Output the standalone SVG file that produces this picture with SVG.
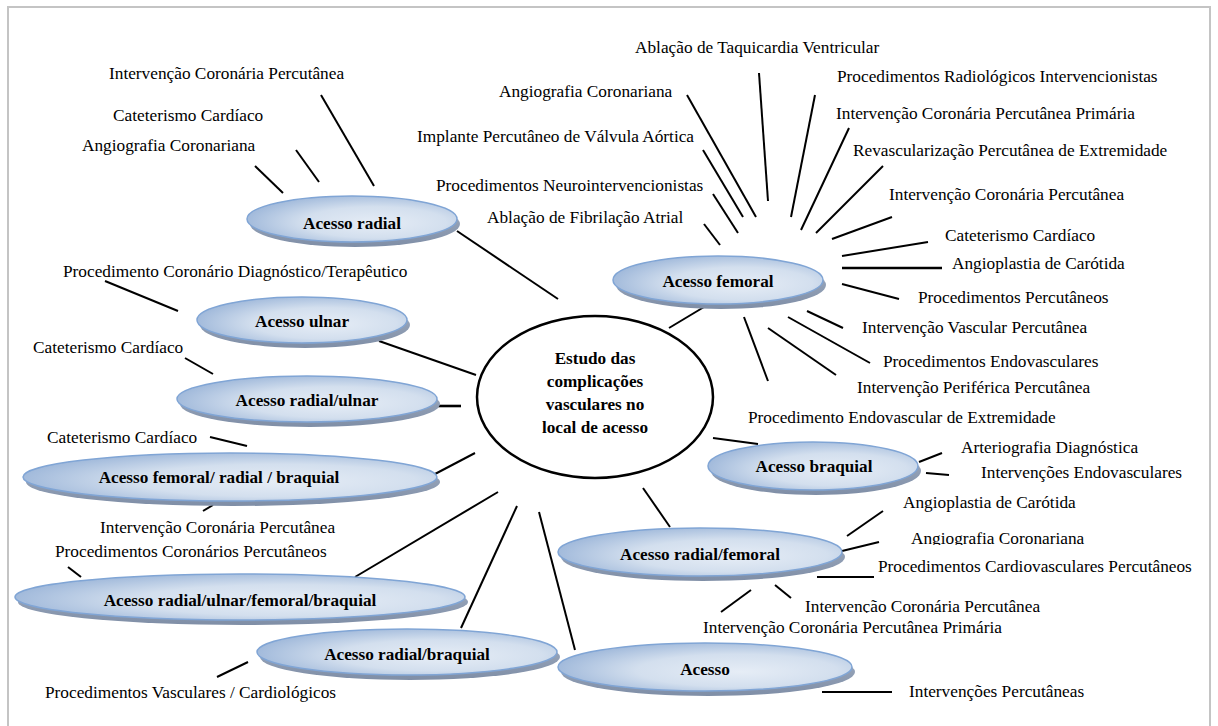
<svg xmlns="http://www.w3.org/2000/svg" width="1218" height="726" viewBox="0 0 1218 726">
<defs>
<radialGradient id="gFill" cx="0.6" cy="0.55" r="0.62" fx="0.62" fy="0.6">
<stop offset="0" stop-color="#e6edf6"/>
<stop offset="0.55" stop-color="#d3dfee"/>
<stop offset="1" stop-color="#9fb8da"/>
</radialGradient>
<linearGradient id="gShadow" x1="0" y1="0" x2="0" y2="1">
<stop offset="0" stop-color="#a3b0c4"/>
<stop offset="1" stop-color="#7f8ea6"/>
</linearGradient>
<clipPath id="clipAC"><rect x="880" y="520" width="300" height="25"/></clipPath>
<clipPath id="clipICP"><rect x="790" y="590" width="300" height="23"/></clipPath>
</defs>
<style>
.sh{fill:url(#gShadow);}
.el{fill:url(#gFill);stroke:#80a5d5;stroke-width:1.5;}
.nt{font-weight:bold;font-size:17.2px;fill:#000;text-anchor:middle;}
.lb{font-size:17.3px;fill:#000;}
.cn line{stroke:#000;stroke-width:2;stroke-linecap:butt;}
</style>
<rect x="0" y="0" width="1218" height="726" fill="#fff"/>
<rect x="8" y="7" width="1202" height="740" fill="none" stroke="#c4c4c4" stroke-width="2"/>

<g id="connectors" class="cn">
<line x1="321" y1="95" x2="374" y2="186"/>
<line x1="296" y1="150" x2="319" y2="182"/>
<line x1="255" y1="166" x2="283" y2="193"/>
<line x1="457" y1="231" x2="558" y2="299"/>
<line x1="105" y1="281" x2="178" y2="311"/>
<line x1="379" y1="341" x2="476" y2="375"/>
<line x1="185" y1="358" x2="213" y2="374"/>
<line x1="432" y1="406" x2="461" y2="406" style="stroke-width:2.6"/>
<line x1="210" y1="437" x2="247" y2="446"/>
<line x1="435" y1="474" x2="475" y2="453"/>
<line x1="203" y1="511" x2="213" y2="505"/>
<line x1="68" y1="567" x2="81" y2="577"/>
<line x1="498" y1="492" x2="355" y2="577"/>
<line x1="517" y1="506" x2="461" y2="628"/>
<line x1="248" y1="662" x2="217" y2="677"/>
<line x1="539" y1="512" x2="575" y2="650"/>
<line x1="822" y1="692" x2="892" y2="692"/>
<line x1="643" y1="488" x2="670" y2="527"/>
<line x1="883" y1="511" x2="847" y2="536"/>
<line x1="879" y1="542" x2="842" y2="551"/>
<line x1="817" y1="577" x2="874" y2="577"/>
<line x1="751" y1="590" x2="721" y2="612"/>
<line x1="775" y1="585" x2="791" y2="598"/>
<line x1="713" y1="438" x2="758" y2="444"/>
<line x1="919" y1="462" x2="942" y2="453"/>
<line x1="926" y1="473" x2="949" y2="475"/>
<line x1="704" y1="307" x2="669" y2="328"/>
<line x1="687" y1="95" x2="756" y2="217"/>
<line x1="703" y1="150" x2="743" y2="217"/>
<line x1="713" y1="194" x2="738" y2="233"/>
<line x1="704" y1="224" x2="720" y2="245"/>
<line x1="759" y1="73" x2="768" y2="201"/>
<line x1="815" y1="95" x2="791" y2="217"/>
<line x1="849" y1="128" x2="801" y2="230"/>
<line x1="883" y1="166" x2="816" y2="233"/>
<line x1="892" y1="217" x2="832" y2="239"/>
<line x1="928" y1="242" x2="842" y2="256"/>
<line x1="842" y1="268" x2="942" y2="268" style="stroke-width:2.6"/>
<line x1="842" y1="284" x2="899" y2="299"/>
<line x1="807" y1="311" x2="843" y2="328"/>
<line x1="788" y1="317" x2="870" y2="363"/>
<line x1="768" y1="328" x2="836" y2="375"/>
<line x1="744" y1="317" x2="768" y2="381"/>
</g>

<g font-family="'Liberation Serif', 'Times New Roman', Times, 'DejaVu Serif', serif">
<g id="center">
<ellipse cx="595" cy="397" rx="118" ry="81" fill="#fff" stroke="#000" stroke-width="2.5"/>
<text class="nt" x="595" y="364">Estudo das</text>
<text class="nt" x="595" y="387">complicações</text>
<text class="nt" x="595" y="410">vasculares no</text>
<text class="nt" x="595" y="433">local de acesso</text>
</g>

<g id="n-radial">
<ellipse class="sh" cx="355" cy="224" rx="105" ry="23"/>
<ellipse class="el" cx="352" cy="219" rx="105" ry="23"/>
<text class="nt" x="352" y="229">Acesso radial</text>
</g>
<g id="n-ulnar">
<ellipse class="sh" cx="305" cy="325" rx="105" ry="23"/>
<ellipse class="el" cx="302" cy="320" rx="105" ry="23"/>
<text class="nt" x="302" y="327">Acesso ulnar</text>
</g>
<g id="n-radial-ulnar">
<ellipse class="sh" cx="310" cy="404" rx="130" ry="23"/>
<ellipse class="el" cx="307" cy="399" rx="130" ry="23"/>
<text class="nt" x="307" y="406">Acesso radial/ulnar</text>
</g>
<g id="n-femoral-radial-braquial">
<ellipse class="sh" cx="233" cy="482" rx="207" ry="24"/>
<ellipse class="el" cx="230" cy="477" rx="207" ry="24"/>
<text class="nt" x="219" y="483">Acesso femoral/ radial / braquial</text>
</g>
<g id="n-radial-ulnar-femoral-braquial">
<ellipse class="sh" cx="243" cy="602" rx="225" ry="23"/>
<ellipse class="el" cx="240" cy="597" rx="225" ry="23"/>
<text class="nt" x="240" y="606">Acesso radial/ulnar/femoral/braquial</text>
</g>
<g id="n-radial-braquial">
<ellipse class="sh" cx="410" cy="657" rx="150" ry="23"/>
<ellipse class="el" cx="407" cy="652" rx="150" ry="23"/>
<text class="nt" x="407" y="660">Acesso radial/braquial</text>
</g>
<g id="n-femoral">
<ellipse class="sh" cx="721" cy="285" rx="105" ry="24"/>
<ellipse class="el" cx="718" cy="280" rx="105" ry="24"/>
<text class="nt" x="718" y="287">Acesso femoral</text>
</g>
<g id="n-braquial">
<ellipse class="sh" cx="816" cy="471" rx="105" ry="24"/>
<ellipse class="el" cx="813" cy="466" rx="105" ry="24"/>
<text class="nt" x="814" y="472">Acesso braquial</text>
</g>
<g id="n-radial-femoral">
<ellipse class="sh" cx="703" cy="557" rx="142" ry="24"/>
<ellipse class="el" cx="700" cy="552" rx="142" ry="24"/>
<text class="nt" x="700" y="560">Acesso radial/femoral</text>
</g>
<g id="n-acesso">
<ellipse class="sh" cx="708" cy="672" rx="147" ry="24"/>
<ellipse class="el" cx="705" cy="667" rx="147" ry="24"/>
<text class="nt" x="705" y="675">Acesso</text>
</g>

<g id="labels" class="lb">
<text id="l1" x="109" y="79">Intervenção Coronária Percutânea</text>
<text id="l2" x="113" y="121">Cateterismo Cardíaco</text>
<text id="l3" x="82" y="151">Angiografia Coronariana</text>
<text id="l4" x="63" y="277">Procedimento Coronário Diagnóstico/Terapêutico</text>
<text id="l5" x="33" y="353">Cateterismo Cardíaco</text>
<text id="l6" x="47" y="443">Cateterismo Cardíaco</text>
<text id="l7" x="100" y="533">Intervenção Coronária Percutânea</text>
<text id="l8" x="55" y="557">Procedimentos Coronários Percutâneos</text>
<text id="l9" x="45" y="698">Procedimentos Vasculares / Cardiológicos</text>
<text id="l10" x="635" y="53">Ablação de Taquicardia Ventricular</text>
<text id="l11" x="499" y="97">Angiografia Coronariana</text>
<text id="l12" x="417" y="142">Implante Percutâneo de Válvula Aórtica</text>
<text id="l13" x="436" y="191">Procedimentos Neurointervencionistas</text>
<text id="l14" x="487" y="223">Ablação de Fibrilação Atrial</text>
<text id="l15" x="837" y="82">Procedimentos Radiológicos Intervencionistas</text>
<text id="l16" x="836" y="119">Intervenção Coronária Percutânea Primária</text>
<text id="l17" x="853" y="156">Revascularização Percutânea de Extremidade</text>
<text id="l18" x="889" y="200">Intervenção Coronária Percutânea</text>
<text id="l19" x="945" y="241">Cateterismo Cardíaco</text>
<text id="l20" x="952" y="269">Angioplastia de Carótida</text>
<text id="l21" x="918" y="303">Procedimentos Percutâneos</text>
<text id="l22" x="862" y="333">Intervenção Vascular Percutânea</text>
<text id="l23" x="883" y="367">Procedimentos Endovasculares</text>
<text id="l24" x="857" y="393">Intervenção Periférica Percutânea</text>
<text id="l25" x="748" y="423">Procedimento Endovascular de Extremidade</text>
<text id="l26" x="961" y="453">Arteriografia Diagnóstica</text>
<text id="l27" x="981" y="478">Intervenções Endovasculares</text>
<text id="l28" x="903" y="508">Angioplastia de Carótida</text>
<text id="l29" x="911" y="544" clip-path="url(#clipAC)">Angiografia Coronariana</text>
<text id="l30" x="878" y="572">Procedimentos Cardiovasculares Percutâneos</text>
<text id="l31" x="805" y="612" clip-path="url(#clipICP)">Intervenção Coronária Percutânea</text>
<text id="l32" x="703" y="633">Intervenção Coronária Percutânea Primária</text>
<text id="l33" x="909" y="697">Intervenções Percutâneas</text>
</g>
</g>
</svg>
